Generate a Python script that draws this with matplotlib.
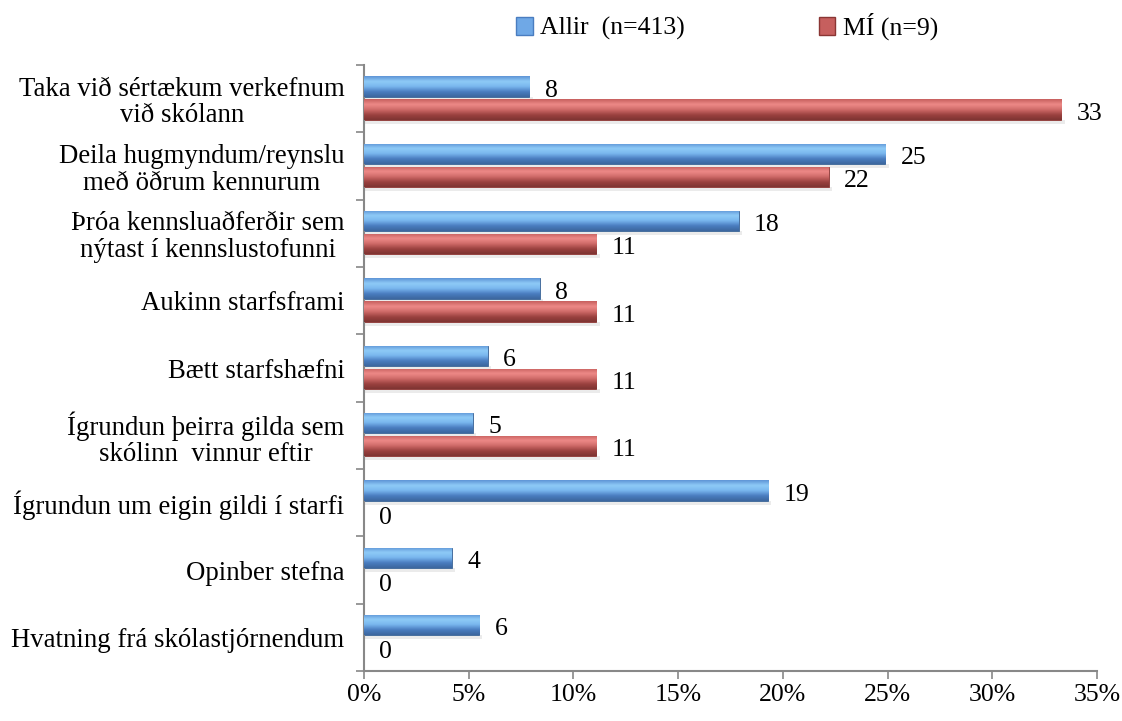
import matplotlib
matplotlib.use("Agg")
import matplotlib.pyplot as plt
import numpy as np
from matplotlib.colors import LinearSegmentedColormap
from matplotlib.patches import Patch

categories = [
    "Taka við sértækum verkefnum\nvið skólann",
    "Deila hugmyndum/reynslu\nmeð öðrum kennurum",
    "Þróa kennsluaðferðir sem\nnýtast í kennslustofunni",
    "Aukinn starfsframi",
    "Bætt starfshæfni",
    "Ígrundun þeirra gilda sem\nskólinn  vinnur eftir",
    "Ígrundun um eigin gildi í starfi",
    "Opinber stefna",
    "Hvatning frá skólastjórnendum",
]
allir = [7.9, 24.9, 17.9, 8.4, 5.9, 5.2, 19.3, 4.2, 5.5]
mi = [33.3, 22.2, 11.1, 11.1, 11.1, 11.1, 0.0, 0.0, 0.0]
series_names = ["Allir  (n=413)", "MÍ (n=9)"]
xticks = [0, 5, 10, 15, 20, 25, 30, 35]

plt.rcParams['font.family'] = ['Liberation Serif', 'DejaVu Serif']
FS = 18.5

fig = plt.figure(figsize=(11.22, 7.21), dpi=100)
ax = fig.add_axes([0.3244, 0.0693, 0.6533, 0.8405])

y = np.arange(len(categories))
h = 0.30
blue_base = "#4F81BD"
red_base = "#C0504D"
blue_cmap = LinearSegmentedColormap.from_list("b", ["#5E94D6", "#8FCBF7", "#79B6EE", "#4A7DC0", "#3C679E"])
red_cmap = LinearSegmentedColormap.from_list("r", ["#C65F5E", "#EE8A88", "#D06B69", "#9C4240", "#7E3432"])

bars_b = ax.barh(y - 0.18, allir, height=h, color=blue_base, edgecolor="#3A6496", linewidth=0.6, zorder=2)
bars_r = ax.barh(y + 0.16, mi, height=h, color=red_base, edgecolor="#8A3634", linewidth=0.6, zorder=2)

grad = np.linspace(0, 1, 64).reshape(-1, 1)
for bars, cmap in ((bars_b, blue_cmap), (bars_r, red_cmap)):
    for p in bars.patches:
        x0, yb = p.get_x(), p.get_y()
        w, hh = p.get_width(), p.get_height()
        if w <= 0:
            continue
        ax.add_patch(plt.Rectangle((x0, yb + hh), w + 0.15, 0.06, color="#000000", alpha=0.08, lw=0, zorder=1))
        im = ax.imshow(grad, cmap=cmap, aspect="auto", extent=(x0, x0 + w, yb + hh, yb), zorder=3, interpolation="bicubic")
        im.set_clip_path(p)

for i, (a, m) in enumerate(zip(allir, mi)):
    ax.annotate(f"{a:.0f}", (a, i - 0.18), xytext=(11, -3), textcoords="offset points",
                ha="left", va="center", fontsize=FS, color="#000000")
    ax.annotate(f"{m:.0f}", (m, i + 0.16), xytext=(11, -3), textcoords="offset points",
                ha="left", va="center", fontsize=FS, color="#000000")

ax.set_xlim(0, 35)
ax.set_ylim(8.5, -0.5)
ax.set_xticks(xticks)
ax.set_xticklabels([f"{t}%" for t in xticks], fontsize=FS)
ax.set_yticks(y)
ax.set_yticklabels(categories, fontsize=19.3, multialignment="center", linespacing=1.08)
ax.set_yticks(np.arange(-0.5, 9.0, 1.0), minor=True)
ax.tick_params(axis="y", which="major", length=0, pad=14)
ax.tick_params(axis="y", which="minor", length=6, color="#888888", width=1.2)
ax.tick_params(axis="x", which="major", length=6, color="#888888", width=1.2, pad=3)

for s in ("top", "right"):
    ax.spines[s].set_visible(False)
for s in ("left", "bottom"):
    ax.spines[s].set_color("#888888")
    ax.spines[s].set_linewidth(1.5)

handles = [Patch(facecolor="#6FA8E6", edgecolor="#4A7DC0"), Patch(facecolor="#C65F5E", edgecolor="#8A3634")]
fig.legend(handles, series_names, loc="center", bbox_to_anchor=(0.648, 0.963), ncol=2,
           frameon=False, fontsize=FS, handlelength=0.65, handleheight=0.65, handletextpad=0.3,
           columnspacing=5.2)

fig.savefig("out.png", dpi=100)
